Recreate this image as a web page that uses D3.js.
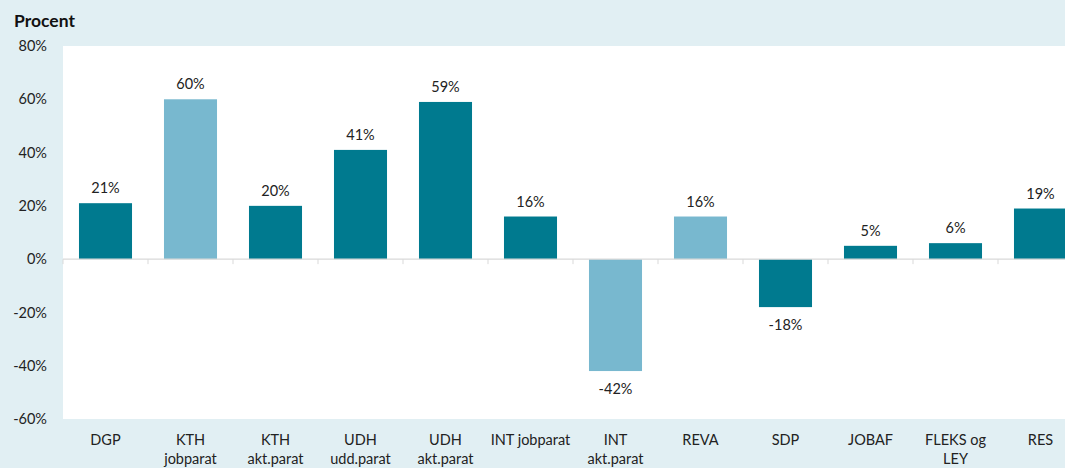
<!DOCTYPE html>
<html>
<head>
<meta charset="utf-8">
<script src="https://cdn.jsdelivr.net/npm/d3@7"></script>
<style>
  html, body { margin: 0; padding: 0; background: #e1eff3; overflow: hidden; }
  svg { display: block; font-family: Lato, "Open Sans", sans-serif; }
</style>
</head>
<body>
<svg></svg>
<script>
const categories = ['DGP', 'KTH\njobparat', 'KTH\nakt.parat', 'UDH\nudd.parat', 'UDH\nakt.parat',
  'INT jobparat', 'INT\nakt.parat', 'REVA', 'SDP', 'JOBAF', 'FLEKS og\nLEY', 'RES'];
const values = [21, 60, 20, 41, 59, 16, -42, 16, -18, 5, 6, 19];
const light = [false, true, false, false, false, false, true, true, false, false, false, false];
const yTicks = [80, 60, 40, 20, 0, -20, -40, -60];

const width = 1065;
const height = 468;
const plot = { left: 63, right: 1083, top: 46, bottom: 419 };
const fs = 14.5;

const svg = d3.select('svg')
  .attr('width', width)
  .attr('height', height);

svg.append('rect')
  .attr('x', plot.left)
  .attr('y', plot.top)
  .attr('width', plot.right - plot.left)
  .attr('height', plot.bottom - plot.top)
  .attr('fill', '#ffffff');

const xScale = d3.scaleBand()
  .domain(categories)
  .range([plot.left, plot.right])
  .paddingInner(0.376)
  .paddingOuter(0.188);

const yScale = d3.scaleLinear()
  .domain([-60, 80])
  .range([plot.bottom, plot.top]);

// y labels
svg.append('g')
  .selectAll('text')
  .data(yTicks)
  .enter().append('text')
  .attr('x', 47)
  .attr('y', d => yScale(d))
  .attr('dy', '0.35em')
  .attr('text-anchor', 'end')
  .attr('font-size', fs)
  .attr('fill', '#222')
  .text(d => d + '%');

svg.append('text')
  .attr('x', 14)
  .attr('y', 27)
  .attr('font-size', 17.5)
  .attr('font-weight', 'bold')
  .attr('fill', '#111')
  .text('Procent');

// bars
svg.selectAll('.bar')
  .data(categories)
  .enter().append('rect')
  .attr('class', 'bar')
  .attr('x', d => xScale(d))
  .attr('y', (d, i) => yScale(Math.max(0, values[i])))
  .attr('width', xScale.bandwidth())
  .attr('height', (d, i) => Math.abs(yScale(values[i]) - yScale(0)))
  .attr('fill', (d, i) => light[i] ? '#78b8cf' : '#007a8f');

// zero line with category ticks
const y0 = yScale(0);
svg.append('line')
  .attr('x1', plot.left).attr('x2', plot.right)
  .attr('y1', y0).attr('y2', y0)
  .attr('stroke', '#d9d9d9')
  .attr('stroke-width', 1.2);

const step = xScale.step();
svg.append('g')
  .selectAll('line')
  .data(d3.range(categories.length + 1))
  .enter().append('line')
  .attr('x1', i => plot.left + i * step)
  .attr('x2', i => plot.left + i * step)
  .attr('y1', y0)
  .attr('y2', y0 + 5)
  .attr('stroke', '#d9d9d9');

// value labels
svg.selectAll('.val')
  .data(categories)
  .enter().append('text')
  .attr('class', 'val')
  .attr('x', d => xScale(d) + xScale.bandwidth() / 2)
  .attr('y', (d, i) => values[i] >= 0 ? yScale(values[i]) - 10 : yScale(values[i]) + 23)
  .attr('text-anchor', 'middle')
  .attr('font-size', fs)
  .attr('fill', '#222')
  .text((d, i) => values[i] + '%');

// category labels
const cat = svg.append('g')
  .selectAll('text')
  .data(categories)
  .enter().append('text')
  .attr('x', d => xScale(d) + xScale.bandwidth() / 2)
  .attr('y', 445)
  .attr('text-anchor', 'middle')
  .attr('font-size', fs)
  .attr('fill', '#222');

cat.selectAll('tspan')
  .data(d => d.split('\n').map(t => ({ t, x: xScale(d) + xScale.bandwidth() / 2 })))
  .enter().append('tspan')
  .attr('x', d => d.x)
  .attr('dy', (d, i) => i === 0 ? 0 : 19)
  .text(d => d.t);
</script>
</body>
</html>
